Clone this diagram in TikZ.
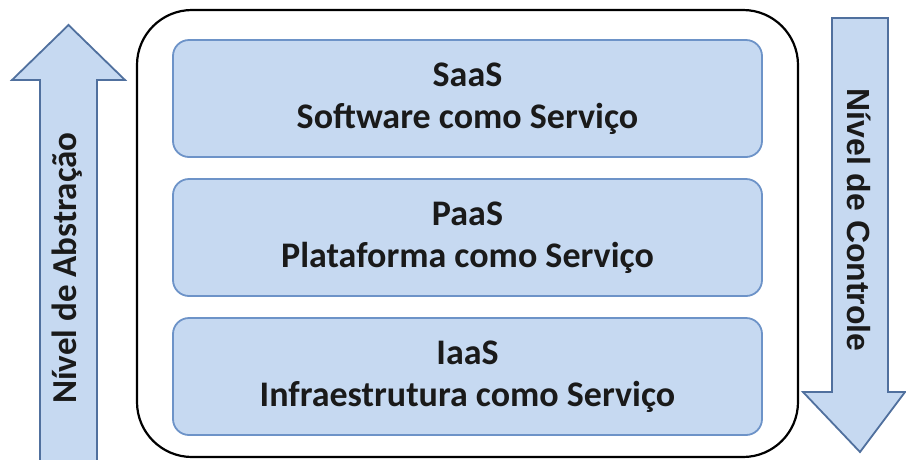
\documentclass[tikz,border=0pt]{standalone}
\usepackage{fontspec}
\setmainfont{Carlito}
\newfontfamily\arialfont{Liberation Sans}
\definecolor{boxfill}{HTML}{C6D9F1}
\definecolor{boxline}{HTML}{6D93C8}
\definecolor{arrowline}{HTML}{50709E}
\definecolor{txt}{HTML}{1A1A1A}
\begin{document}
\begin{tikzpicture}[x=1pt,y=-1pt,
  layer/.style={draw=boxline, fill=boxfill, line width=1.8pt, rounded corners=16pt,
    minimum width=589pt, minimum height=117pt, align=center, text=txt,
    font=\fontsize{36}{42}\selectfont\bfseries},
  bigarrow/.style={draw=arrowline, fill=boxfill, line width=1.8pt, line join=miter},
  arrowlabel/.style={text=txt}]
\useasboundingbox (0,0) rectangle (906,459);
\fill[white] (0,0) rectangle (906,459);
% outer container
\node[draw=black, line width=2.2pt, rounded corners=55pt, minimum width=661pt, minimum height=447pt] (outer) at (467.5,233.5) {};
% layers
\node[layer] (saas) at (467.5,98.5) {SaaS\\Software como Serviço};
\node[layer] (paas) at (467.5,237.5) {PaaS\\Plataforma como Serviço};
\node[layer] (iaas) at (467.5,376.5) {IaaS\\Infraestrutura como Serviço};
% left up arrow
\draw[bigarrow] (40,462) -- (40,80) -- (12,80) -- (68.5,25) -- (125,80) -- (97,80) -- (97,462) -- cycle;
\node[arrowlabel, rotate=90] (abs) at (67,268) {\fontsize{35}{40}\selectfont\bfseries Nível de Abstração};
% right down arrow
\draw[bigarrow] (832,18) -- (888,18) -- (888,392) -- (905,392) -- (860,452) -- (803,392) -- (832,392) -- cycle;
\node[arrowlabel, rotate=-90] (ctl) at (859,220) {\arialfont\bfseries\fontsize{32}{38}\selectfont Nível de Controle};
\end{tikzpicture}
\end{document}
